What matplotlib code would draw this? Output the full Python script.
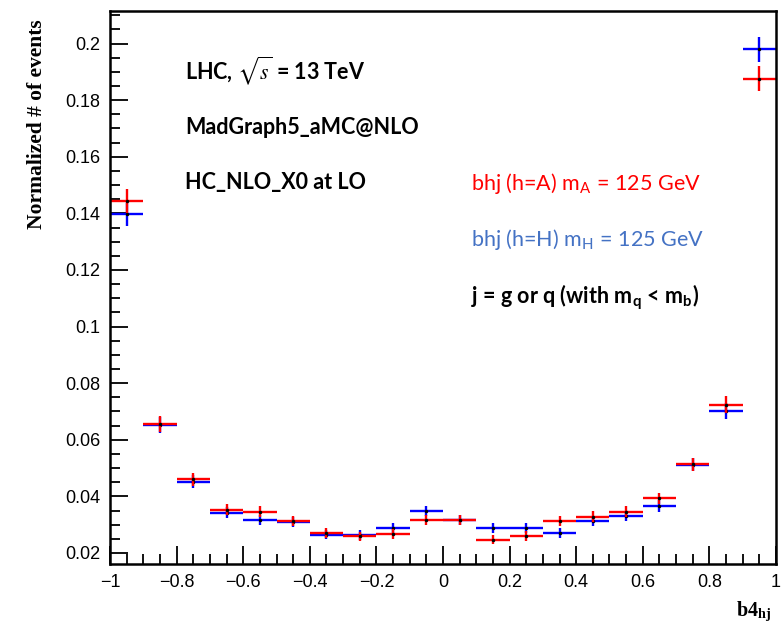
import numpy as np
import matplotlib
matplotlib.use("Agg")
import matplotlib.pyplot as plt
from matplotlib.ticker import MultipleLocator, FuncFormatter

# bin centres of b4_hj (20 bins, width 0.1)
bin_centres = [-0.95, -0.85, -0.75, -0.65, -0.55, -0.45, -0.35, -0.25, -0.15, -0.05,
               0.05, 0.15, 0.25, 0.35, 0.45, 0.55, 0.65, 0.75, 0.85, 0.95]
half_width = 0.05

# h = H (blue)
blue_vals = [0.1397, 0.0652, 0.0452, 0.0342, 0.0317, 0.0308, 0.0265, 0.0264, 0.0289, 0.0348,
             0.0317, 0.0289, 0.0289, 0.0271, 0.0313, 0.0331, 0.0366, 0.0511, 0.0702, 0.1980]
blue_errs = [0.0040, 0.0028, 0.0022, 0.0019, 0.0018, 0.0018, 0.0017, 0.0017, 0.0017, 0.0019,
             0.0018, 0.0017, 0.0017, 0.0017, 0.0018, 0.0018, 0.0020, 0.0023, 0.0029, 0.0044]

# h = A (red)
red_vals = [0.1444, 0.0655, 0.0460, 0.0353, 0.0346, 0.0312, 0.0270, 0.0259, 0.0268, 0.0317,
            0.0317, 0.0246, 0.0261, 0.0313, 0.0328, 0.0346, 0.0393, 0.0514, 0.0723, 0.1875]
red_errs = [0.0042, 0.0028, 0.0022, 0.0019, 0.0019, 0.0018, 0.0017, 0.0016, 0.0017, 0.0018,
            0.0018, 0.0016, 0.0017, 0.0018, 0.0019, 0.0019, 0.0020, 0.0023, 0.0030, 0.0044]

plt.rcParams['mathtext.fontset'] = 'stix'

fig = plt.figure(figsize=(7.82, 6.36), dpi=100)
ax = fig.add_axes([0.1407, 0.1132, 0.8516, 0.8695])

for vals, errs, col in [(blue_vals, blue_errs, "#0000ff"), (red_vals, red_errs, "#ff0000")]:
    ax.errorbar(bin_centres, vals, xerr=half_width, yerr=errs, fmt='none',
                ecolor=col, elinewidth=1.7, capsize=0)
    ax.plot(bin_centres, vals, 'o', color='black', markersize=1.5)

ax.set_xlim(-1, 1)
ax.set_ylim(0.0161, 0.2115)

ax.xaxis.set_major_locator(MultipleLocator(0.2))
ax.xaxis.set_minor_locator(MultipleLocator(0.05))
ax.yaxis.set_major_locator(MultipleLocator(0.02))
ax.yaxis.set_minor_locator(MultipleLocator(0.005))

fmt = FuncFormatter(lambda v, p: ("%g" % round(v, 4)).replace("-", "\u2212"))
ax.xaxis.set_major_formatter(fmt)
ax.yaxis.set_major_formatter(fmt)

ax.tick_params(which='both', direction='in', top=False, right=False, width=1.3, color='black')
ax.tick_params(which='major', length=13, labelsize=13, pad=7)
ax.tick_params(which='minor', length=7)
for lab in ax.get_xticklabels() + ax.get_yticklabels():
    lab.set_family("Liberation Sans")

for sp in ax.spines.values():
    sp.set_linewidth(1.8)


def fig_text(x, y, s, size, **kw):
    # place text by pixel position measured on the reference
    fig.text(x / 782, 1 - y / 636, s, fontsize=size, **kw)


fig_text(37, 124, "Normalized # of events", 15.5, rotation=90, ha='center', va='center',
         family="Liberation Serif", fontweight='bold')
fig_text(771, 616, r"b4$_{\mathregular{hj}}$", 14.5, ha='right', va='baseline',
         family="Liberation Serif", fontweight='bold')

txt_font = "Lato"
fig_text(185, 71, r"LHC, $\sqrt{s}$ = 13 TeV", 15.5, va='center', family=txt_font, fontweight='bold')
fig_text(185, 127, "MadGraph5_aMC@NLO", 15.5, va='center', family=txt_font, fontweight='bold')
fig_text(185, 183, "HC_NLO_X0 at LO", 15.5, va='center', family=txt_font, fontweight='bold')
fig_text(471, 183, r"bhj (h=A) m$_\mathregular{A}$ = 125 GeV", 15.5, va='center',
         family=txt_font, color="#ff0000")
fig_text(471, 240, r"bhj (h=H) m$_\mathregular{H}$ = 125 GeV", 15.5, va='center',
         family=txt_font, color="#4472c4")
fig_text(471, 297, r"j = g or q (with m$_\mathregular{q}$ < m$_\mathregular{b}$)", 15.5, va='center',
         family=txt_font, fontweight='bold')

fig.savefig("out.png", dpi=100)
